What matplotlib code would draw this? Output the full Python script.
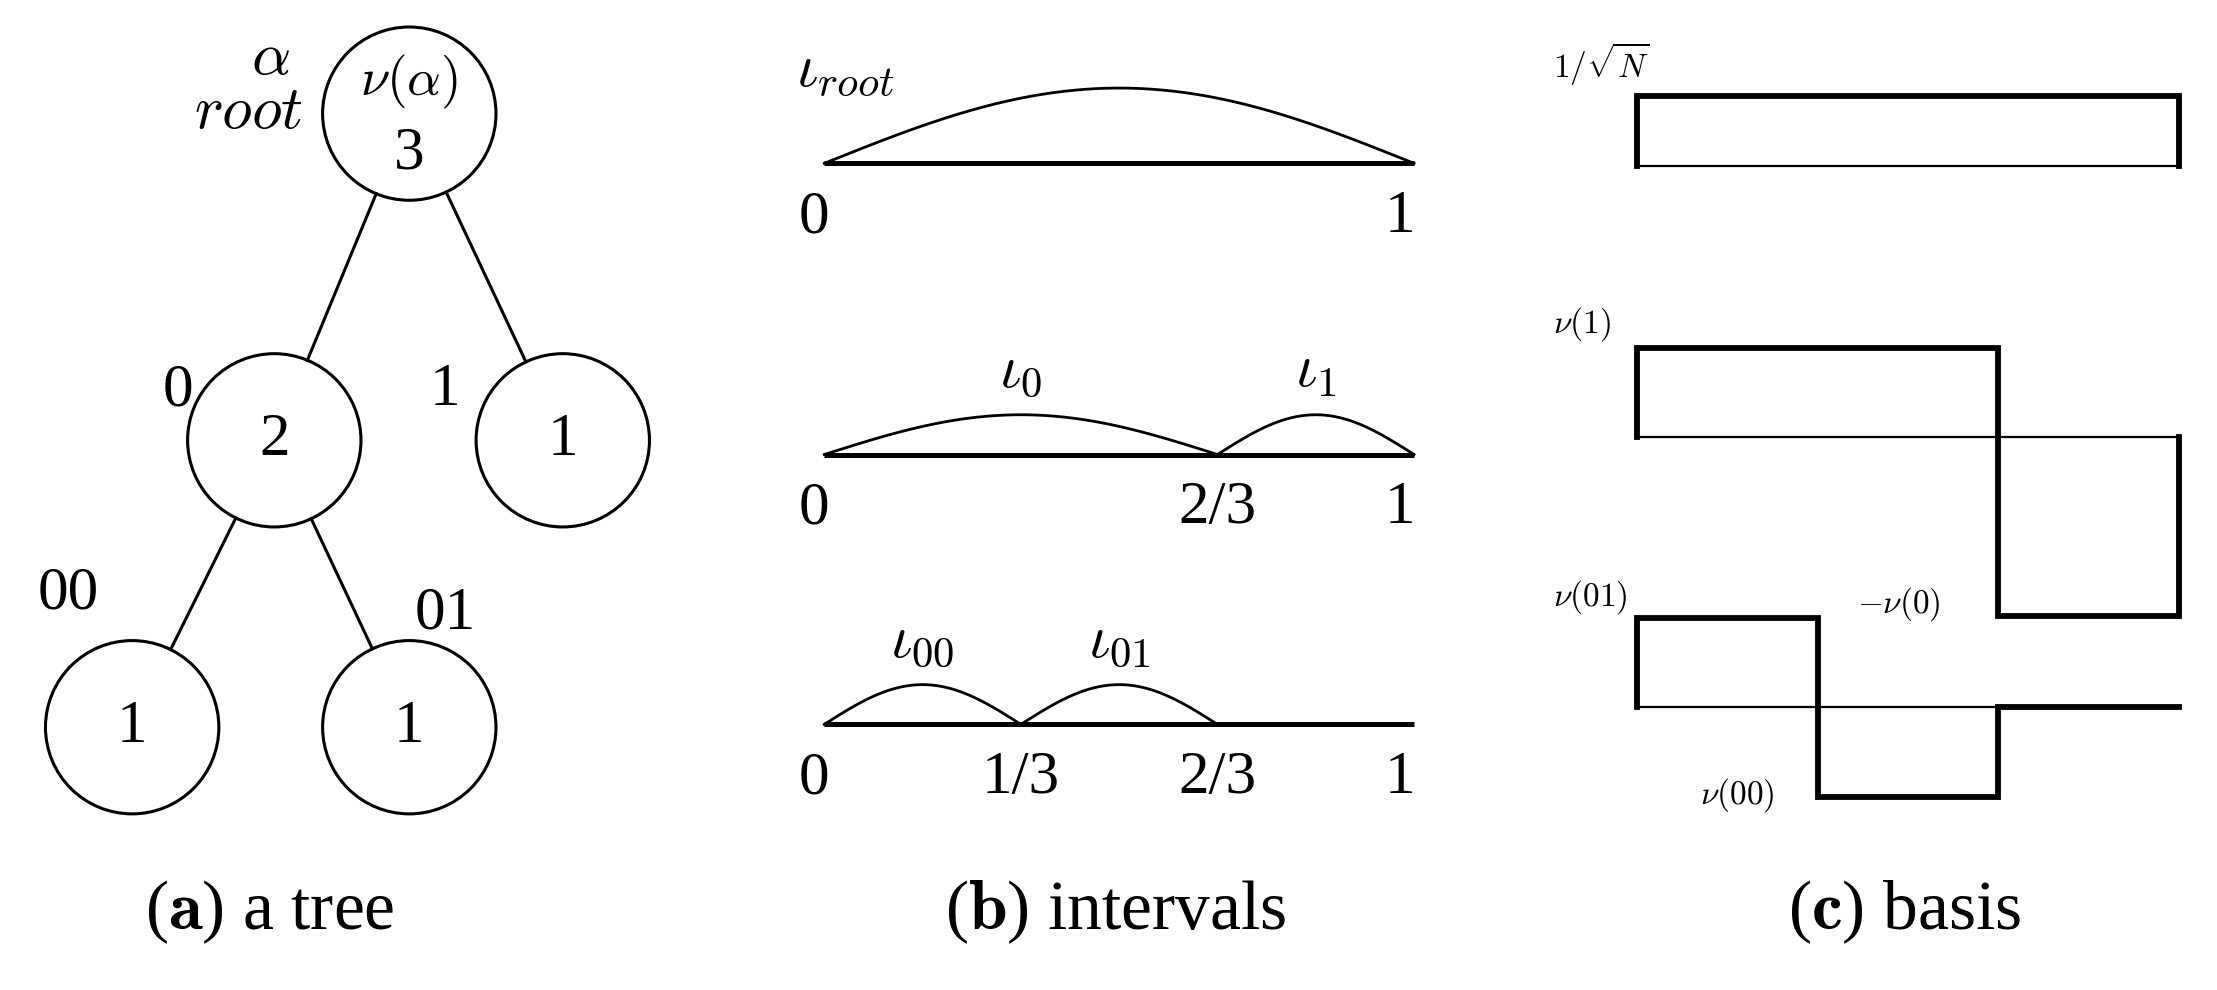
import numpy as np
import matplotlib
matplotlib.use("Agg")
import matplotlib.pyplot as plt
from matplotlib.patches import Circle

plt.rcParams['mathtext.fontset'] = 'cm'
plt.rcParams['font.family'] = ['Liberation Serif', 'DejaVu Serif']

# ---- data ----
node_values = ['3', '2', '1', '1', '1']
node_labels = [r'$\nu(\alpha)$', '', '', '', '']
edge_labels = ['', '0', '1', '00', '01']
parents = [None, 0, 0, 1, 1]

breaks_rows = [[0, 1], [0, 2/3, 1], [0, 1/3, 2/3, 1]]
bump_labels = [[r'$\iota_{root}$'], [r'$\iota_0$', r'$\iota_1$'], [r'$\iota_{00}$', r'$\iota_{01}$']]
tick_labels = [['0', '1'], ['0', '2/3', '1'], ['0', '1/3', '2/3', '1']]

basis_edges = [[0, 1], [0, 2/3, 1], [0, 1/3, 2/3, 1]]
basis_levels = [[0.78], [1, -2], [1, -1, 0]]
basis_labels = [r'$1/\sqrt{N}$', r'$\nu(1)$', r'$\nu(01)$']
captions = [r'($\mathbf{a}$) a tree', r'($\mathbf{b}$) intervals', r'($\mathbf{c}$) basis']

FS = 44
fig = plt.figure(figsize=(22.17, 9.9), dpi=100)
ax = fig.add_axes([0, 0, 1, 1])
ax.set_xlim(0, 1560); ax.set_ylim(697, 0); ax.axis('off')

pos = [(288, 80), (193, 310), (396, 310), (93, 512), (288, 512)]
R = 61
for i, (x, y) in enumerate(pos):
    ax.add_patch(Circle((x, y), R, fill=False, lw=2.2, color='k'))
    p = parents[i]
    if p is not None:
        px, py = pos[p]
        d = np.hypot(x - px, y - py)
        ux, uy = (x - px) / d, (y - py) / d
        ax.plot([px + ux * R, x - ux * R], [py + uy * R, y - uy * R], color='k', lw=2.2)
    if node_labels[i]:
        ax.text(x, y - 22, node_labels[i], ha='center', va='center', fontsize=38)
        ax.text(x, y + 28, node_values[i], ha='center', va='center', fontsize=FS)
    else:
        ax.text(x, y, node_values[i], ha='center', va='center', fontsize=FS)
elab_pos = [None, (125, 275), (313, 275), (48, 418), (313, 432)]
for i, lab in enumerate(edge_labels):
    if lab:
        ax.text(*elab_pos[i], lab, ha='center', va='center', fontsize=FS)
ax.text(190, 42, r'$\alpha$', ha='center', va='center', fontsize=FS)
ax.text(175, 80, r'$root$', ha='center', va='center', fontsize=FS)

# panel b
x0, x1 = 580, 995
base_y = [115, 320, 510]
peak = [53, 28, 28]
for r, br in enumerate(breaks_rows):
    y = base_y[r]
    ax.plot([x0, x1], [y, y], color='k', lw=3.6, solid_capstyle='butt')
    nb = len(bump_labels[r])
    for k in range(nb):
        a, b = br[k], br[k + 1]
        t = np.linspace(0, 1, 200)
        xs = x0 + (a + (b - a) * t) * (x1 - x0)
        ax.plot(xs, y - peak[r] * np.sin(np.pi * t), color='k', lw=2.0)
        xm = x0 + (a + b) / 2 * (x1 - x0)
        if r == 0:
            ax.text(560, 50, bump_labels[r][k], ha='left', va='center', fontsize=FS)
        else:
            ax.text(xm, y - peak[r] - 30, bump_labels[r][k], ha='center', va='center', fontsize=FS)
    for v, lab in zip(br, tick_labels[r]):
        xt = x0 + v * (x1 - x0)
        if v == 0: xt -= 7
        if v == 1: xt -= 10
        ax.text(xt, y + 38, lab, ha='center', va='center', fontsize=FS)

# panel c
c0, c1 = 1152, 1533
cb = [117, 308, 498]
amp = 63
lab_pos = [(1093, 45), (1093, 228), (1093, 420)]
for r, (ed, lv) in enumerate(zip(basis_edges, basis_levels)):
    y = cb[r]
    ax.plot([c0, c1], [y, y], color='k', lw=1.6)
    xs = [c0 + e * (c1 - c0) for e in ed]
    px, py = [xs[0]], [y]
    for k, l in enumerate(lv):
        px += [xs[k], xs[k + 1]]; py += [y - l * amp, y - l * amp]
    px.append(xs[-1]); py.append(y)
    ax.plot(px, py, color='k', lw=4.2, solid_joinstyle='miter')
    ax.text(*lab_pos[r], basis_labels[r], ha='left', va='center', fontsize=24)
ax.text(1307, 425, r'$-\nu(0)$', ha='left', va='center', fontsize=24)
ax.text(1196, 560, r'$\nu(00)$', ha='left', va='center', fontsize=24)

for x, c in zip([190, 785, 1340], captions):
    ax.text(x, 642, c, ha='center', va='center', fontsize=50)

fig.savefig('out.png', dpi=100)
